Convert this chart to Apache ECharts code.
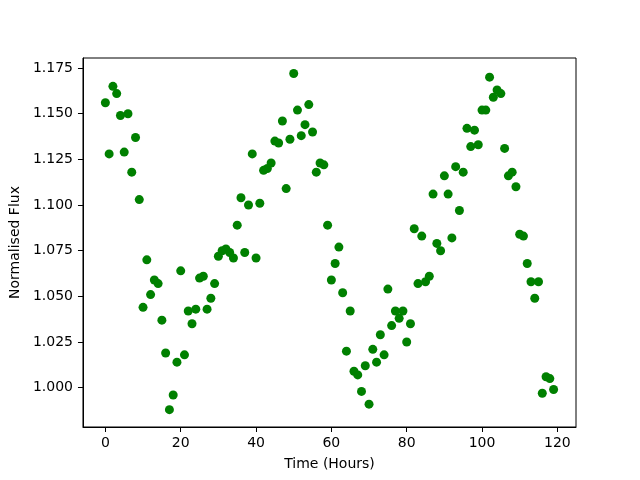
<!DOCTYPE html>
<html>
<head>
<meta charset="utf-8">
<script src="https://cdn.jsdelivr.net/npm/echarts@6/dist/echarts.min.js"></script>
<style>
  html, body { margin: 0; padding: 0; background: #fff; }
  #chart { width: 640px; height: 480px; }
</style>
</head>
<body>
<div id="chart"></div>
<script>
// hourly samples
var hours = [];
for (var h = 0; h < 120; h++) hours.push(h);

var flux = [
  1.156, 1.128, 1.165, 1.161, 1.149, 1.129, 1.150, 1.118, 1.137, 1.103,
  1.044, 1.070, 1.051, 1.059, 1.057, 1.037, 1.019, 0.988, 0.996, 1.014,
  1.064, 1.018, 1.042, 1.035, 1.043, 1.060, 1.061, 1.043, 1.049, 1.057,
  1.072, 1.075, 1.076, 1.074, 1.071, 1.089, 1.104, 1.074, 1.100, 1.128,
  1.071, 1.101, 1.119, 1.120, 1.123, 1.135, 1.134, 1.146, 1.109, 1.136,
  1.172, 1.152, 1.138, 1.144, 1.155, 1.140, 1.118, 1.123, 1.122, 1.089,
  1.059, 1.068, 1.077, 1.052, 1.020, 1.042, 1.009, 1.007, 0.998, 1.012,
  0.991, 1.021, 1.014, 1.029, 1.018, 1.054, 1.034, 1.042, 1.038, 1.042,
  1.025, 1.035, 1.087, 1.057, 1.083, 1.058, 1.061, 1.106, 1.079, 1.075,
  1.116, 1.106, 1.082, 1.121, 1.097, 1.118, 1.142, 1.132, 1.141, 1.133,
  1.152, 1.152, 1.170, 1.159, 1.163, 1.161, 1.131, 1.116, 1.118, 1.110,
  1.084, 1.083, 1.068, 1.058, 1.049, 1.058, 0.997, 1.006, 1.005, 0.999
];

var xTicks = [0, 20, 40, 60, 80, 100, 120];
var yTicks = [1.000, 1.025, 1.050, 1.075, 1.100, 1.125, 1.150, 1.175];

var points = hours.map(function (t, i) {
  return [t, flux[i]];
});

var font = "DejaVu Sans";
var myChart = echarts.init(document.getElementById("chart"), null, { renderer: "canvas" });

var option = {
  animation: false,
  backgroundColor: "#fff",
  grid: {
    left: 80,
    right: 64,
    top: 58,
    bottom: 53,
    show: true,
    borderColor: "#000",
    borderWidth: 1,
    containLabel: false
  },
  xAxis: {
    type: "value",
    min: -5.95,
    max: 124.95,
    name: "Time (Hours)",
    nameLocation: "middle",
    nameGap: 30,
    nameTextStyle: { fontFamily: font, fontSize: 14, color: "#000" },
    axisLine: { show: true, onZero: false, lineStyle: { color: "#000", width: 1 } },
    axisTick: {
      show: true,
      length: 5,
      customValues: xTicks,
      lineStyle: { color: "#000", width: 1 }
    },
    axisLabel: {
      customValues: xTicks,
      margin: 9,
      fontFamily: font,
      fontSize: 14,
      color: "#000"
    },
    splitLine: { show: false }
  },
  yAxis: {
    type: "value",
    min: 0.9785,
    max: 1.1805,
    name: "Normalised Flux",
    nameLocation: "middle",
    nameGap: 54,
    nameTextStyle: { fontFamily: font, fontSize: 14, color: "#000" },
    axisLine: { show: true, onZero: false, lineStyle: { color: "#000", width: 1 } },
    axisTick: {
      show: true,
      length: 5,
      customValues: yTicks,
      lineStyle: { color: "#000", width: 1 }
    },
    axisLabel: {
      customValues: yTicks,
      margin: 10,
      fontFamily: font,
      fontSize: 14,
      color: "#000",
      formatter: function (v) {
        return v.toFixed(3);
      }
    },
    splitLine: { show: false }
  },
  series: [
    {
      type: "scatter",
      symbol: "circle",
      symbolSize: 9,
      itemStyle: { color: "#008000", opacity: 1 },
      data: points
    }
  ]
};

myChart.setOption(option);
</script>
</body>
</html>
